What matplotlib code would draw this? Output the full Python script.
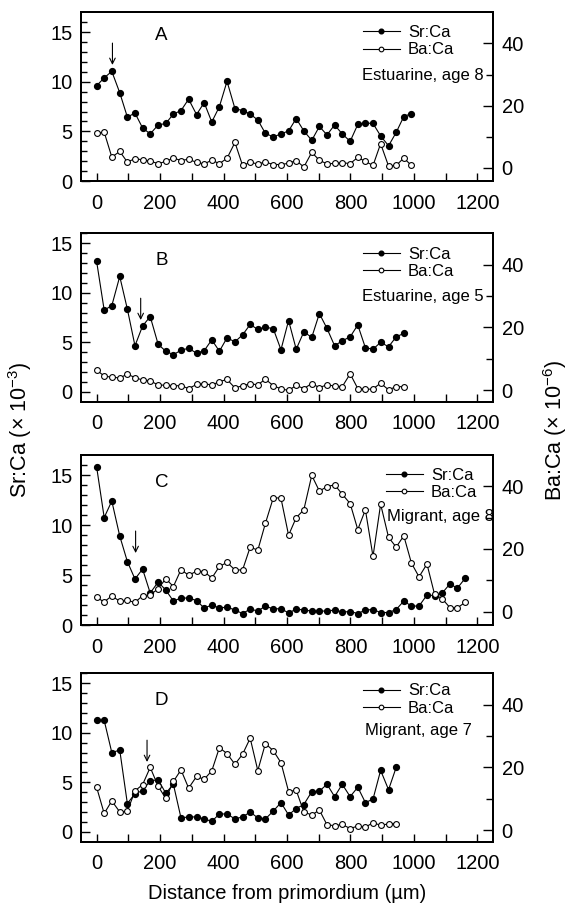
import matplotlib
matplotlib.use("Agg")
import matplotlib.pyplot as plt
from matplotlib.ticker import MultipleLocator, FixedLocator

plt.rcParams['font.family'] = ['Liberation Sans', 'DejaVu Sans']
plt.rcParams['mathtext.fontset'] = 'custom'
plt.rcParams['mathtext.rm'] = 'Liberation Sans'
plt.rcParams['mathtext.it'] = 'Liberation Sans:italic'
plt.rcParams['mathtext.bf'] = 'Liberation Sans:bold'

# distance from primordium (um), shared sampling positions
dist = [0, 24, 48, 73, 97, 121, 145, 169, 194, 218, 242, 266, 290, 315, 339,
        363, 387, 411, 436, 460, 484, 508, 532, 557, 581, 605, 629, 653, 678,
        702, 726, 750, 774, 799, 823, 847, 871, 895, 920, 944, 968, 992, 1016,
        1041, 1065, 1089, 1113, 1137, 1162]

# A - estuarine, age 8
sr_a = [9.6, 10.4, 11.05, 8.9, 6.45, 6.85, 5.35, 4.75, 5.65, 5.8, 6.75, 7.1,
        8.25, 6.7, 7.9, 5.95, 7.5, 10.05, 7.3, 7.1, 6.75, 6.15, 4.8, 4.45,
        4.75, 5.05, 6.3, 5.05, 4.1, 5.5, 4.65, 5.65, 4.75, 4.0, 5.7, 5.85,
        5.8, 4.55, 3.55, 4.9, 6.5, 6.8]
ba_a = [11.2, 11.5, 3.5, 5.3, 1.9, 3.0, 2.6, 2.2, 1.4, 2.1, 3.2, 2.4, 2.8,
        1.8, 1.3, 2.5, 1.4, 3.1, 8.2, 0.8, 1.8, 1.3, 1.9, 1.1, 1.1, 1.5, 2.4,
        0.3, 5.0, 2.5, 1.3, 1.5, 1.7, 1.4, 3.4, 2.1, 0.8, 7.8, 0.6, 0.8, 3.2,
        0.8]

# B - estuarine, age 5
sr_b = [13.2, 8.25, 8.7, 11.65, 8.35, 4.65, 6.65, 7.6, 4.8, 4.1, 3.75, 4.2,
        4.4, 3.9, 4.15, 5.25, 4.1, 5.45, 5.05, 5.75, 6.8, 6.3, 6.55, 6.35,
        4.25, 7.2, 4.3, 6.05, 5.5, 7.9, 6.4, 4.65, 5.15, 5.55, 6.75, 4.45,
        4.3, 5.0, 4.55, 5.55, 5.9]
ba_b = [6.4, 4.5, 4.1, 3.9, 5.1, 4.0, 3.2, 3.0, 1.6, 1.6, 1.4, 1.4, 0.5,
        1.8, 2.1, 1.6, 2.7, 3.4, 0.7, 1.4, 2.0, 1.7, 3.5, 1.4, 0.4, -0.1,
        1.5, 0.5, 2.1, 0.8, 1.7, 1.3, 1.1, 5.2, 0.5, 0.2, 0.4, 2.2, 0.1,
        1.1, 1.1]

# C - migrant, age 8
sr_c = [15.85, 10.75, 12.4, 8.9, 6.35, 4.6, 5.6, 3.2, 4.3, 3.5, 2.4, 2.7,
        2.7, 2.45, 1.7, 2.0, 1.7, 1.8, 1.5, 1.15, 1.6, 1.4, 1.9, 1.6, 1.65,
        1.2, 1.6, 1.5, 1.4, 1.4, 1.4, 1.5, 1.3, 1.35, 1.15, 1.5, 1.55, 1.25,
        1.25, 1.55, 2.4, 1.9, 1.9, 3.0, 2.95, 3.2, 4.1, 3.7, 4.7]
ba_c = [4.5, 3.1, 5.0, 3.3, 3.6, 2.9, 5.1, 5.3, 7.3, 10.5, 8.0, 13.4, 11.6,
        12.9, 12.8, 10.7, 14.4, 15.7, 13.3, 13.3, 20.6, 19.6, 28.2, 36.4,
        36.2, 24.4, 30.0, 32.5, 43.5, 38.5, 39.9, 40.5, 37.5, 34.5, 26.2,
        32.5, 17.6, 34.3, 23.7, 20.6, 24.2, 15.5, 11.1, 15.2, 5.5, 4.1, 1.3,
        1.2, 3.0]

# D - migrant, age 7
sr_d = [11.25, 11.25, 8.0, 8.25, 2.85, 3.85, 4.15, 5.15, 5.25, 3.9, 4.8,
        1.4, 1.5, 1.5, 1.3, 1.05, 1.8, 1.8, 1.3, 1.5, 2.0, 1.4, 1.3, 2.1,
        2.95, 1.7, 2.35, 2.75, 4.05, 4.1, 4.8, 3.55, 4.8, 3.55, 4.5, 2.95,
        3.3, 6.2, 4.25, 6.5]
ba_d = [13.7, 5.3, 9.3, 5.8, 6.0, 12.5, 14.5, 20.0, 14.0, 10.1, 15.5, 19.2,
        13.4, 17.1, 16.2, 18.9, 26.3, 24.4, 21.0, 24.2, 29.3, 19.0, 27.6,
        25.3, 21.5, 12.3, 12.7, 5.8, 4.8, 6.4, 1.7, 1.4, 1.8, 0.5, 1.3, 0.9,
        2.4, 1.5, 2.0, 2.1]

letters = ['A', 'B', 'C', 'D']
notes = ['Estuarine, age 8', 'Estuarine, age 5', 'Migrant, age 8', 'Migrant, age 7']
sr_all = [sr_a, sr_b, sr_c, sr_d]
ba_all = [ba_a, ba_b, ba_c, ba_d]
arrow_x = [50, 139, 123, 159]
arrow_tip = [11.7, 7.25, 7.2, 7.05]

# layout (figure fractions) and per-panel limits
bottoms = [0.8017, 0.5600, 0.3154, 0.0781]
heights = [0.1848, 0.1844, 0.1862, 0.1844]
left_lims = [(0, 17), (-1, 16), (0, 17), (-1, 16)]
right_lims = [(-4.2, 50), (-3.7, 50), (-4.3, 50), (-3.7, 50)]
leg_pos = [(0.684, 0.925), (0.684, 0.92), (0.74, 0.925), (0.684, 0.94)]
note_pos = [(0.681, 0.628), (0.681, 0.624), (0.742, 0.637), (0.690, 0.66)]
letter_y = [0.865, 0.836, 0.837, 0.836]

fig = plt.figure(figsize=(5.74, 9.13), dpi=100)

for i in range(4):
    ax = fig.add_axes([0.1406, bottoms[i], 0.7188, heights[i]])
    ax2 = ax.twinx()
    n = len(sr_all[i])
    l1, = ax.plot(dist[:n], sr_all[i], color='black', lw=0.8, marker='o',
                  ms=4.2, mfc='black', mec='black', label='Sr:Ca')
    l2, = ax2.plot(dist[:n], ba_all[i], color='black', lw=0.8, marker='o',
                   ms=4.2, mfc='white', mec='black', mew=0.8, label='Ba:Ca')

    ax.set_xlim(-50, 1250)
    ax.set_ylim(*left_lims[i])
    ax2.set_ylim(*right_lims[i])

    ax.xaxis.set_major_locator(MultipleLocator(200))
    ax.xaxis.set_minor_locator(MultipleLocator(100))
    ax.yaxis.set_major_locator(FixedLocator([0, 5, 10, 15]))
    ax.yaxis.set_minor_locator(FixedLocator(list(range(0, 17))))
    ax2.yaxis.set_major_locator(FixedLocator([0, 20, 40]))
    ax2.yaxis.set_minor_locator(FixedLocator([10, 30]))

    ax.tick_params(axis='x', which='both', direction='in', length=6, width=1,
                   pad=9, labelsize=14.5)
    ax.tick_params(axis='y', which='major', direction='in', length=6.7,
                   width=1, pad=6, labelsize=14.5)
    ax.tick_params(axis='y', which='minor', direction='in', length=4.3, width=1)
    ax2.tick_params(axis='y', which='major', direction='in', length=7.2,
                    width=1, pad=6, labelsize=14.5)
    ax2.tick_params(axis='y', which='minor', direction='in', length=5.3, width=1)

    for a in (ax, ax2):
        for s in a.spines.values():
            s.set_linewidth(1.4)

    ax2.legend([l1, l2], ['Sr:Ca', 'Ba:Ca'], loc='upper left',
               bbox_to_anchor=leg_pos[i], frameon=False, fontsize=12,
               handlelength=2.2, handletextpad=0.5, labelspacing=0.15,
               borderpad=0, borderaxespad=0, numpoints=1, markerscale=0.8)
    ax2.text(note_pos[i][0], note_pos[i][1], notes[i], transform=ax.transAxes,
             fontsize=12, ha='left', va='center')
    ax.text(0.196, letter_y[i], letters[i], transform=ax.transAxes,
            fontsize=13.5, ha='center', va='center')
    ax.annotate('', xy=(arrow_x[i], arrow_tip[i]),
                xytext=(arrow_x[i], arrow_tip[i] + 2.2),
                arrowprops=dict(arrowstyle='->', lw=0.8, color='black',
                                shrinkA=0, shrinkB=0))

fig.text(0.035, 0.529, 'Sr:Ca (× 10$^{-3}$)', rotation=90, ha='center',
         va='center', fontsize=15.5)
fig.text(0.967, 0.529, 'Ba:Ca (× 10$^{-6}$)', rotation=90, ha='center',
         va='center', fontsize=15.5)
fig.text(0.5, 0.021, 'Distance from primordium (µm)', ha='center',
         va='center', fontsize=14.5)

fig.savefig('out.png', dpi=100)
